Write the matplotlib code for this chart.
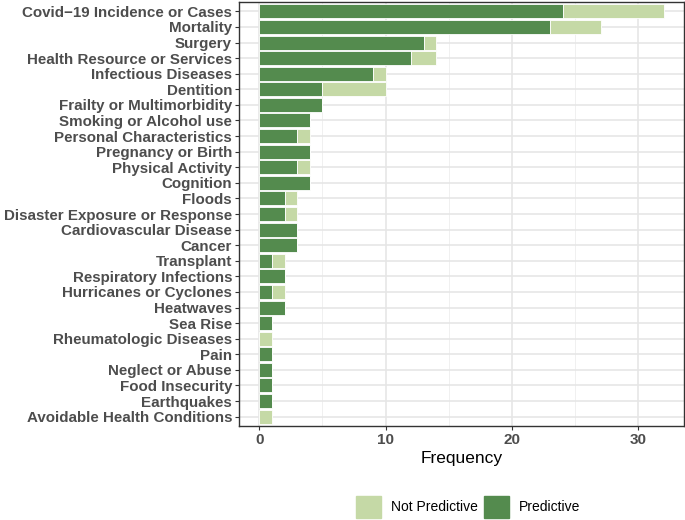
import matplotlib
matplotlib.use("Agg")
import matplotlib.pyplot as plt
from matplotlib.patches import Patch
import numpy as np

categories = ["Covid\u221219 Incidence or Cases", "Mortality", "Surgery", "Health Resource or Services",
              "Infectious Diseases", "Dentition", "Frailty or Multimorbidity", "Smoking or Alcohol use",
              "Personal Characteristics", "Pregnancy or Birth", "Physical Activity", "Cognition",
              "Floods", "Disaster Exposure or Response", "Cardiovascular Disease", "Cancer",
              "Transplant", "Respiratory Infections", "Hurricanes or Cyclones", "Heatwaves",
              "Sea Rise", "Rheumatologic Diseases", "Pain", "Neglect or Abuse", "Food Insecurity",
              "Earthquakes", "Avoidable Health Conditions"]
predictive = [24, 23, 13, 12, 9, 5, 5, 4, 3, 4, 3, 4, 2, 2, 3, 3, 1, 2, 1, 2, 1, 0, 1, 1, 1, 1, 0]
not_predictive = [8, 4, 1, 2, 1, 5, 0, 0, 1, 0, 1, 0, 1, 1, 0, 0, 1, 0, 1, 0, 0, 1, 0, 0, 0, 0, 1]

dark = "#548B4E"
light = "#C5D9A6"
grey_text = "#4D4D4D"

plt.rcParams['font.family'] = ['Liberation Sans', 'DejaVu Sans']

fig = plt.figure(figsize=(6.85, 5.2), dpi=100)
ax = fig.add_axes([239/685, 1 - 426/520, (684 - 239)/685, (426 - 2)/520])

n = len(categories)
y = np.arange(n)
pred = np.array(predictive)
notp = np.array(not_predictive)
ax.barh(y, pred, height=0.9, color=dark, edgecolor="white", linewidth=0.6, zorder=3)
ax.barh(y, notp, left=pred, height=0.9, color=light, edgecolor="white", linewidth=0.6, zorder=3)

ax.set_ylim(n - 0.4, -0.6)
xmax = max(pred + notp)
ax.set_xlim(-0.05 * xmax, xmax * 1.05)
ax.set_yticks(y)
ax.set_yticklabels(categories, fontsize=10.9, fontweight='bold', color=grey_text)
ax.set_xticks([0, 10, 20, 30])
ax.set_xticklabels(["0", "10", "20", "30"], fontsize=11, fontweight='bold', color=grey_text)
ax.set_xticks([5, 15, 25], minor=True)
ax.tick_params(axis='both', which='major', color="#333333", length=3, pad=2)
ax.tick_params(axis='x', which='minor', length=0)
ax.grid(True, which='major', color="#E6E6E6", linewidth=1.2, zorder=0)
ax.grid(True, which='minor', axis='x', color="#F0F0F0", linewidth=0.7, zorder=0)
ax.set_axisbelow(True)
for s in ax.spines.values():
    s.set_color("#333333")
    s.set_linewidth(1.0)

ax.set_xlabel("Frequency", fontsize=12.5, color="black", labelpad=3)

handles = [Patch(facecolor=light, edgecolor=light), Patch(facecolor=dark, edgecolor=dark)]
fig.legend(handles, ["Not Predictive", "Predictive"], loc='center', bbox_to_anchor=(468/685, 1 - 507/520),
           ncol=2, frameon=False, fontsize=10, handlelength=1.8, handleheight=2.0, columnspacing=0.45,
           handletextpad=0.7)

fig.savefig("out.png", dpi=100)
